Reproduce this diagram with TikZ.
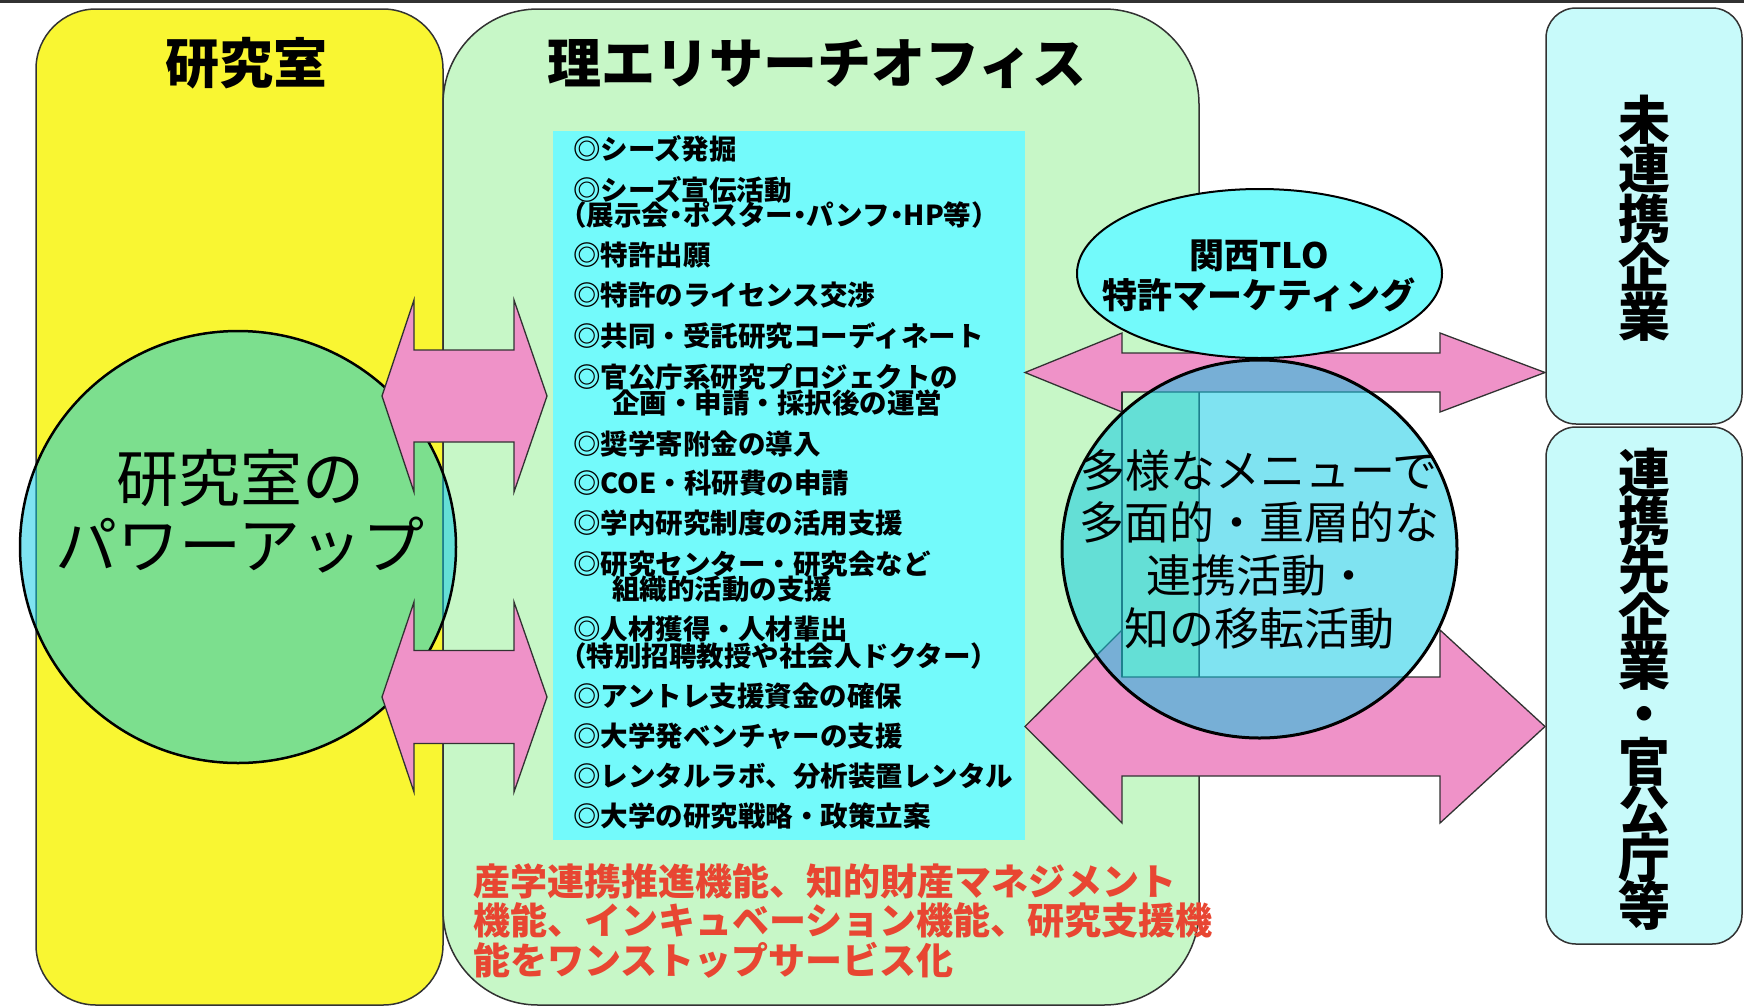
\documentclass[tikz,border=0pt]{standalone}
\usepackage{fontspec}
\setmainfont{Noto Sans CJK JP}
\definecolor{ybox}{RGB}{249,246,50}
\definecolor{gbox}{RGB}{199,247,199}
\definecolor{lcyan}{RGB}{115,250,251}
\definecolor{rbox}{RGB}{200,250,250}
\definecolor{apink}{RGB}{239,146,200}
\definecolor{tblue}{RGB}{10,202,228}
\definecolor{rtext}{RGB}{232,70,50}
\definecolor{edge}{RGB}{50,50,50}
\newcommand\jstrut{\rule[-0.12em]{0pt}{1em}}
\newcommand\jdot{\makebox[0.5em]{・}}
\newcommand\jlp{\makebox[0.5em][r]{（}}
\newcommand\jrp{\makebox[0.5em][l]{）}}
\newcommand\noskip{\lineskiplimit=-300pt\relax}
\begin{document}
\begin{tikzpicture}[x=1pt,y=-1pt,
  boxline/.style={draw=edge, line width=1.5},
  item/.style={anchor=west, inner sep=0, font=\fontsize{27.5}{25}\selectfont\bfseries},
  titletext/.style={inner sep=0, font=\fontsize{54}{60}\selectfont\bfseries},
  vtext/.style={inner sep=0, align=center, font=\fontsize{52}{49.3}\selectfont\bfseries\noskip},
  parrow/.style={fill=apink, draw=edge, line width=1.3, line join=miter},
  tlayer/.style={fill=tblue, fill opacity=0.52, draw=black, line width=2.5}]
\useasboundingbox (0,0) rectangle (1744,1007);
% top rule
\draw[line width=3, edge] (0,1.5) -- (1744,1.5);
% columns
\path[boxline, fill=ybox, rounded corners=60] (36,9) rectangle (443,1005);
\path[boxline, fill=gbox, rounded corners=95] (443,9) rectangle (1199,1005);
\fill[lcyan] (553,131) rectangle (1025,840);
\path[boxline, fill=rbox, rounded corners=30] (1546,8) rectangle (1742,424);
\path[boxline, fill=rbox, rounded corners=30] (1546,427) rectangle (1742,944);
% left circle
\path[tlayer] (238,547) ellipse [x radius=218, y radius=216];
% left arrows
\path[parrow] (382,396) -- (414,300) -- (414,350) -- (514,350) -- (514,300) -- (547,396)
  -- (514,492) -- (514,442) -- (414,442) -- (414,492) -- cycle;
\path[parrow] (382,697) -- (414,602) -- (414,650.5) -- (514,650.5) -- (514,602) -- (547,697)
  -- (514,792) -- (514,743.5) -- (414,743.5) -- (414,792) -- cycle;
% right arrows
\path[parrow] (1025,372.5) -- (1122,333) -- (1122,353) -- (1440,353) -- (1440,333) -- (1545,372.5)
  -- (1440,412) -- (1440,392) -- (1122,392) -- (1122,412) -- cycle;
\path[parrow] (1025,726.5) -- (1122,630) -- (1122,677) -- (1440,677) -- (1440,630) -- (1545,726.5)
  -- (1440,823) -- (1440,776) -- (1122,776) -- (1122,823) -- cycle;
\draw[edge, line width=1.3] (1122,392) -- (1122,677);
% TLO ellipse
\path[fill=lcyan, draw=black, line width=2] (1259.5,273.5) ellipse [x radius=182.5, y radius=84.5];
% big translucent ellipse
\path[tlayer, line width=3] (1259.5,549) ellipse [x radius=197.5, y radius=189];
% titles
\node[titletext] (lab) at (246,63) {研究室\jstrut};
\node[titletext] (office) at (817,63) {理エリサーチオフィス\jstrut};
% list
\node[item] (i1) at (573,149) {◎シーズ発掘\jstrut};
\node[item] (i2) at (573,190) {◎シーズ宣伝活動\jstrut};
\node[item] (i2b) at (573,215) {\jlp 展示会\jdot ポスター\jdot パンフ\jdot HP等\jrp\jstrut};
\node[item] (i3) at (573,255) {◎特許出願\jstrut};
\node[item] (i4) at (573,295) {◎特許のライセンス交渉\jstrut};
\node[item] (i5) at (573,336) {◎共同・受託研究コーディネート\jstrut};
\node[item] (i6) at (573,377) {◎官公庁系研究プロジェクトの\jstrut};
\node[item] (i6b) at (612,403) {企画・申請・採択後の運営\jstrut};
\node[item] (i7) at (573,444) {◎奨学寄附金の導入\jstrut};
\node[item] (i8) at (573,483) {◎COE・科研費の申請\jstrut};
\node[item] (i9) at (573,523) {◎学内研究制度の活用支援\jstrut};
\node[item] (i10) at (573,564) {◎研究センター・研究会など\jstrut};
\node[item] (i10b) at (612,589) {組織的活動の支援\jstrut};
\node[item] (i11) at (573,629) {◎人材獲得・人材輩出\jstrut};
\node[item] (i11b) at (573,656) {\jlp 特別招聘教授や社会人ドクター\jrp\jstrut};
\node[item] (i12) at (573,696) {◎アントレ支援資金の確保\jstrut};
\node[item] (i13) at (573,736) {◎大学発ベンチャーの支援\jstrut};
\node[item] (i14) at (573,776) {◎レンタルラボ、分析装置レンタル\jstrut};
\node[item] (i15) at (573,816) {◎大学の研究戦略・政策立案\jstrut};
% red summary
\node[anchor=west, align=left, inner sep=0, text=rtext,
  font=\fontsize{37}{39.5}\selectfont\bfseries\noskip] (summary) at (473,920.5)
  {産学連携推進機能、知的財産マネジメント\jstrut\\機能、インキュベーション機能、研究支援機\jstrut\\能をワンストップサービス化\jstrut};
% circle text
\node[inner sep=0, align=center, font=\fontsize{62}{67}\selectfont\noskip] (power) at (240,511.5)
  {研究室の\jstrut\\パワーアップ\jstrut};
% TLO text
\node[inner sep=0, align=center, font=\fontsize{35}{40}\selectfont\bfseries\noskip] (tlotext) at (1259,275)
  {関西TLO\jstrut\\特許マーケティング\jstrut};
% big ellipse text
\node[inner sep=0, align=center, font=\fontsize{45}{52.7}\selectfont\noskip] (menu) at (1259,549)
  {多様なメニューで\jstrut\\多面的・重層的な\jstrut\\連携活動・\jstrut\\知の移転活動\jstrut};
% vertical texts
\node[vtext] (unlinked) at (1644,218.5) {未\jstrut\\連\jstrut\\携\jstrut\\企\jstrut\\業\jstrut};
\node[vtext, font=\fontsize{52}{48.1}\selectfont\bfseries\noskip] (partners) at (1644,689.5)
  {連\jstrut\\携\jstrut\\先\jstrut\\企\jstrut\\業\jstrut\\・\jstrut\\官\jstrut\\公\jstrut\\庁\jstrut\\等\jstrut};
\end{tikzpicture}
\end{document}
